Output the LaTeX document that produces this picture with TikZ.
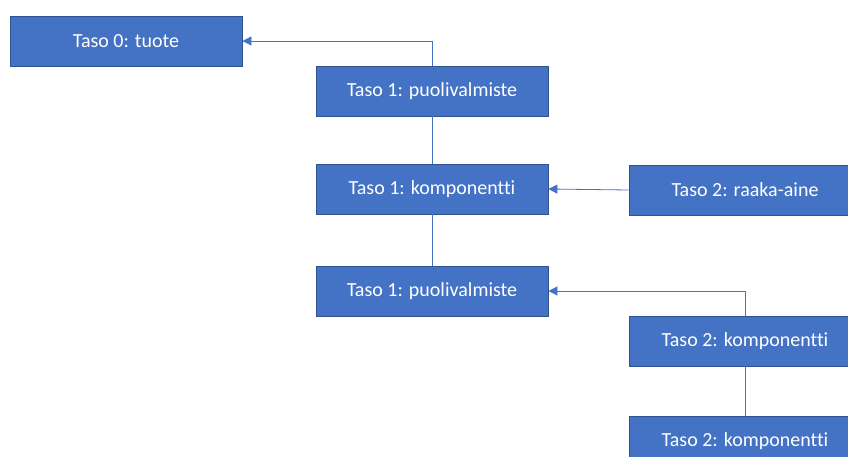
\documentclass[tikz,border=0pt]{standalone}
\usepackage{fontspec}
\setmainfont{Carlito}[Ligatures=NoCommon]
\usetikzlibrary{arrows.meta,positioning}

\definecolor{boxfill}{HTML}{4472C4}
\definecolor{boxline}{HTML}{2F528F}

\begin{document}
\begin{tikzpicture}[x=1pt,y=-1pt,
    level/.style={draw=boxline,line width=0.8pt,fill=boxfill,text=white,
      minimum width=232pt,minimum height=50pt,inner sep=0pt,
      font=\fontsize{20}{24}\selectfont},
    link/.style={draw=boxfill,line width=0.8pt},
    feed/.style={link,-{Triangle[length=9pt,width=9pt]}}]
  \useasboundingbox (0,0) rectangle (848,457);
  \node[level] (T0)  at (126,41)  {Taso 0: tuote};
  \node[level] (T1a) at (432,91)  {Taso 1: puolivalmiste};
  \node[level] (T1b) at (432,189) {Taso 1: komponentti};
  \node[level] (T2a) at (745,190) {Taso 2: raaka-aine};
  \node[level] (T1c) at (432,291) {Taso 1: puolivalmiste};
  \node[level] (T2b) at (745,341) {Taso 2: komponentti};
  \node[level] (T2c) at (745,441) {Taso 2: komponentti};

  \draw[feed] (T1a.north) |- (T0.east);
  \draw[link] (T1a) -- (T1b);
  \draw[feed] (T2a.west) -- (T1b.east);
  \draw[link] (T1b) -- (T1c);
  \draw[feed] (T2b.north) |- (T1c.east);
  \draw[link] (T2b) -- (T2c);
\end{tikzpicture}
\end{document}
